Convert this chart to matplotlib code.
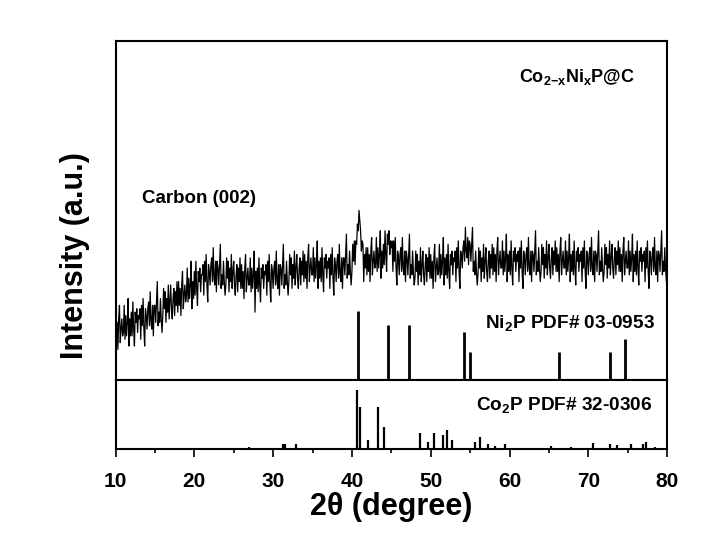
import numpy as np
import matplotlib
matplotlib.use("Agg")
import matplotlib.pyplot as plt

plt.rcParams["font.family"] = ["Liberation Sans", "DejaVu Sans"]
plt.rcParams["font.weight"] = "bold"
plt.rcParams["mathtext.fontset"] = "custom"
plt.rcParams["mathtext.rm"] = "Liberation Sans:bold"
plt.rcParams["mathtext.it"] = "Liberation Sans:bold"
plt.rcParams["mathtext.bf"] = "Liberation Sans:bold"

# measured pattern, 10.0 - 79.9 deg in 0.1 deg steps (one row per degree) + 80.0
xrd_rows = [
    [19, 12, 17, 9, 18, 22, 11, 15, 18, 13],  # 10
    [14, 22, 12, 19, 13, 17, 24, 10, 18, 13],
    [20, 13, 23, 15, 10, 20, 17, 21, 14, 19],
    [18, 21, 12, 22, 16, 24, 15, 10, 21, 19],
    [15, 21, 23, 16, 26, 17, 15, 22, 13, 22],
    [22, 17, 23, 29, 16, 20, 17, 24, 18, 14],  # 15
    [19, 27, 21, 26, 17, 24, 20, 28, 18, 23],
    [28, 21, 18, 24, 27, 19, 26, 22, 29, 20],
    [29, 22, 27, 19, 28, 32, 21, 25, 28, 23],
    [25, 33, 23, 30, 24, 28, 35, 21, 29, 24],
    [32, 25, 35, 27, 22, 32, 29, 33, 26, 31],  # 20
    [31, 34, 25, 35, 29, 37, 28, 23, 34, 32],
    [28, 34, 36, 29, 39, 30, 28, 35, 26, 35],
    [33, 28, 34, 40, 27, 31, 28, 35, 29, 25],
    [28, 36, 30, 35, 26, 33, 29, 37, 27, 32],
    [35, 28, 25, 31, 34, 26, 33, 29, 36, 27],  # 25
    [34, 27, 32, 24, 33, 37, 26, 30, 33, 28],
    [28, 36, 26, 33, 27, 31, 38, 20, 32, 27],
    [33, 26, 36, 28, 23, 33, 30, 34, 27, 32],
    [31, 34, 25, 35, 29, 37, 28, 23, 34, 32],
    [27, 33, 35, 28, 38, 29, 27, 34, 25, 34],  # 30
    [33, 28, 34, 40, 27, 31, 28, 35, 29, 25],
    [29, 37, 31, 36, 27, 34, 30, 38, 28, 33],
    [37, 30, 27, 33, 36, 28, 35, 31, 38, 29],
    [37, 30, 35, 27, 36, 40, 29, 33, 36, 31],
    [31, 39, 29, 36, 30, 34, 41, 27, 35, 30],  # 35
    [36, 29, 39, 31, 26, 36, 33, 37, 30, 35],
    [33, 36, 27, 37, 31, 39, 30, 25, 36, 34],
    [29, 35, 37, 30, 40, 31, 29, 36, 27, 36],
    [36, 31, 37, 43, 30, 34, 31, 38, 32, 28],
    [32, 40, 35, 41, 34, 41, 40, 46, 44, 50],  # 40
    [47, 44, 38, 41, 40, 29, 37, 33, 39, 31],
    [39, 32, 37, 29, 38, 42, 31, 35, 38, 33],
    [34, 42, 32, 39, 33, 37, 44, 30, 38, 33],
    [40, 34, 44, 37, 32, 43, 40, 44, 37, 41],
    [39, 41, 32, 41, 35, 42, 33, 28, 38, 36],  # 45
    [31, 37, 39, 32, 42, 33, 31, 38, 29, 38],
    [36, 31, 37, 43, 30, 34, 31, 38, 32, 28],
    [30, 38, 32, 37, 28, 35, 31, 39, 29, 34],
    [38, 31, 28, 34, 37, 29, 36, 32, 39, 30],
    [37, 30, 35, 27, 36, 40, 29, 33, 36, 31],  # 50
    [32, 40, 30, 37, 31, 35, 42, 28, 36, 31],
    [37, 30, 40, 32, 27, 37, 34, 38, 31, 36],
    [35, 38, 29, 39, 33, 41, 32, 27, 38, 37],
    [33, 39, 41, 35, 45, 38, 36, 42, 34, 41],
    [40, 35, 40, 45, 32, 35, 31, 38, 32, 28],  # 55
    [31, 39, 33, 38, 29, 36, 32, 40, 30, 35],
    [39, 32, 29, 35, 38, 30, 37, 33, 40, 31],
    [39, 32, 37, 29, 38, 42, 31, 35, 38, 33],
    [33, 41, 31, 38, 32, 36, 43, 29, 37, 32],
    [38, 31, 41, 33, 28, 38, 35, 39, 32, 37],  # 60
    [35, 38, 29, 39, 33, 41, 32, 27, 38, 36],
    [31, 37, 39, 32, 42, 33, 31, 38, 29, 38],
    [37, 32, 38, 44, 31, 35, 32, 39, 33, 29],
    [32, 40, 34, 39, 30, 37, 33, 41, 31, 36],
    [40, 33, 30, 36, 39, 31, 38, 34, 41, 32],  # 65
    [39, 32, 37, 29, 38, 42, 31, 35, 38, 33],
    [33, 41, 31, 38, 32, 36, 43, 29, 37, 32],
    [38, 31, 41, 33, 28, 38, 35, 39, 32, 37],
    [35, 38, 29, 39, 33, 41, 32, 27, 38, 36],
    [31, 37, 39, 32, 42, 33, 31, 38, 29, 38],  # 70
    [37, 32, 38, 44, 31, 35, 32, 39, 33, 29],
    [32, 40, 34, 39, 30, 37, 33, 41, 31, 36],
    [40, 33, 30, 36, 39, 31, 38, 34, 41, 32],
    [39, 32, 37, 29, 38, 42, 31, 35, 38, 33],
    [33, 41, 31, 38, 32, 36, 43, 29, 37, 32],  # 75
    [38, 31, 41, 33, 28, 38, 35, 39, 32, 37],
    [35, 38, 29, 39, 33, 41, 32, 27, 38, 36],
    [31, 37, 39, 32, 42, 33, 31, 38, 29, 38],
    [37, 32, 38, 44, 31, 35, 32, 39, 33, 29],
]
xrd_last = 35
intensity = np.array([v for row in xrd_rows for v in row] + [xrd_last], dtype=float)
two_theta = np.round(np.linspace(10.0, 80.0, len(intensity)), 1)

# reference cards
ni2p_pos = [40.8, 44.6, 47.3, 54.2, 55.0, 66.3, 72.7, 74.7]
ni2p_int = [100, 80, 80, 70, 41, 41, 41, 60]

co2p_pos = [26.9, 31.2, 31.5, 32.9, 40.7, 41.0, 42.0, 43.3, 44.1, 48.7,
            49.7, 50.4, 51.6, 52.1, 52.7, 55.6, 56.2, 57.3, 58.2, 59.4,
            65.2, 67.8, 70.6, 72.8, 73.7, 75.4, 77.0, 77.3, 78.4]
co2p_int = [4, 8, 8, 9, 100, 71, 15, 71, 38, 27,
            12, 28, 23, 32, 15, 12, 21, 8, 5, 9,
            5, 4, 10, 8, 7, 9, 9, 11, 4]

fig = plt.figure(figsize=(7.22, 5.37), dpi=100)
gs = fig.add_gridspec(2, 1, height_ratios=[339.3, 69], hspace=0,
                      left=0.160, right=0.924, top=0.924, bottom=0.164)
ax1 = fig.add_subplot(gs[0])
ax2 = fig.add_subplot(gs[1], sharex=ax1)

ax1.plot(two_theta, intensity, color="black", lw=0.9)
ax1.vlines(ni2p_pos, 0, np.array(ni2p_int) * 0.202, color="black", lw=2.0)
ax1.set_ylim(0, 100)
ax1.set_xlim(10, 80)

ax2.vlines(co2p_pos, 0, co2p_int, color="black", lw=1.6)
ax2.set_ylim(0, 117.6)

for ax in (ax1, ax2):
    for sp in ax.spines.values():
        sp.set_linewidth(1.5)
    ax.set_yticks([])

ax1.tick_params(axis="x", which="both", bottom=False, labelbottom=False)
ax2.set_xticks(np.arange(10, 81, 10))
ax2.set_xticks(np.arange(15, 80, 10), minor=True)
ax2.tick_params(axis="x", which="major", direction="out", length=5.5, width=1.2,
                labelsize=15, pad=11)
ax2.tick_params(axis="x", which="minor", direction="out", length=3, width=1.2)

ax1.text(75.9, 89.3, r"Co$_{2\mathrm{-}x}$Ni$_{x}$P@C", fontsize=13,
         fontweight="bold", ha="right", va="center")
ax1.text(13.3, 53.6, "Carbon (002)", fontsize=13.5, fontweight="bold",
         ha="left", va="center")
ax1.text(78.4, 16.8, r"Ni$_{2}$P PDF# 03-0953", fontsize=13.7,
         fontweight="bold", ha="right", va="center")
ax2.text(78.1, 0.64 * 117.6, r"Co$_{2}$P PDF# 32-0306", fontsize=13.7,
         fontweight="bold", ha="right", va="center")

ax2.set_xlabel("2θ (degree)", fontsize=22, fontweight="bold", labelpad=1)
fig.text(0.104, 0.525, "Intensity (a.u.)", rotation=90, fontsize=22,
         fontweight="bold", ha="center", va="center")

fig.savefig("out.png", dpi=100)
